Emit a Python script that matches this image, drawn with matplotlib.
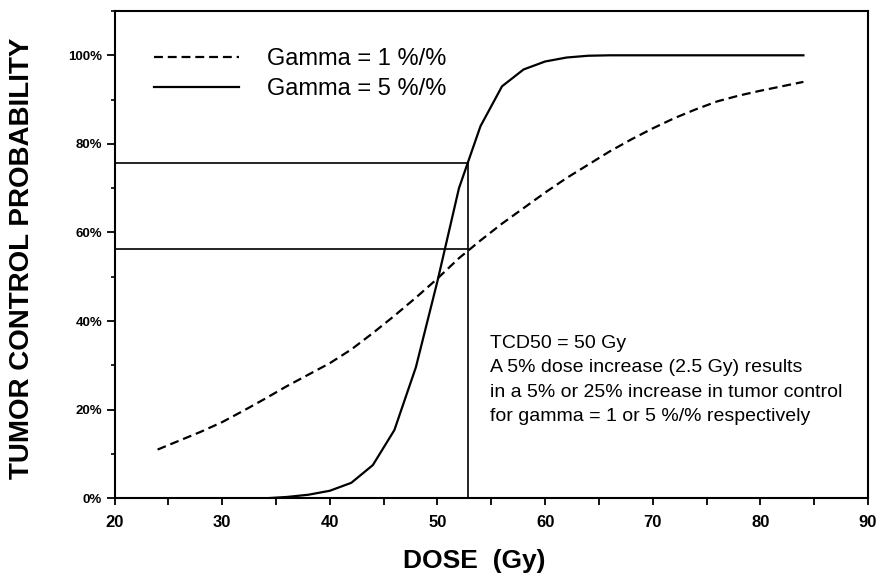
import numpy as np
import matplotlib
matplotlib.use("Agg")
import matplotlib.pyplot as plt
from matplotlib.ticker import MultipleLocator, FuncFormatter

plt.rcParams['font.family'] = ['Liberation Sans', 'DejaVu Sans']

# dose (Gy) and tumor control probability (%)
dose_g1 = [24, 26, 28, 30, 32, 34, 36, 38, 40, 42, 44, 46, 48, 50, 52, 54,
           56, 58, 60, 62, 64, 66, 68, 70, 72, 74, 76, 78, 80, 82, 84]
tcp_g1 = [11.0, 13.0, 15.0, 17.2, 19.8, 22.5, 25.3, 27.9, 30.5, 33.6, 37.3,
          41.2, 45.3, 49.6, 54.2, 58.2, 62.0, 65.5, 69.0, 72.3, 75.3, 78.3,
          81.0, 83.5, 85.8, 87.8, 89.6, 90.9, 92.0, 93.0, 94.0]

dose_g5 = [20, 34, 36, 38, 40, 42, 44, 46, 48, 50, 52, 54, 56, 58, 60, 62,
           64, 66, 70, 84]
tcp_g5 = [0.0, 0.0, 0.3, 0.8, 1.7, 3.5, 7.5, 15.4, 29.6, 49.0, 70.0, 84.0,
          93.0, 96.8, 98.6, 99.5, 99.9, 100.0, 100.0, 100.0]

# increased dose marker and resulting TCP levels
dose_mark = 52.8
tcp_levels = [75.6, 56.2]

labels = ["Gamma = 1 %/%", "Gamma = 5 %/%"]
note = ("TCD50 = 50 Gy\n"
        "A 5% dose increase (2.5 Gy) results\n"
        "in a 5% or 25% increase in tumor control\n"
        "for gamma = 1 or 5 %/% respectively")

fig = plt.figure(figsize=(8.77, 5.76), dpi=100)
ax = fig.add_axes([0.1306, 0.1349, 0.8591, 0.8460])

ax.plot(dose_g1, tcp_g1, color='black', lw=1.6, linestyle=(0, (4.0, 2.2)),
        label=labels[0])
ax.plot(dose_g5, tcp_g5, color='black', lw=1.6, label=labels[1])

for t in tcp_levels:
    ax.plot([20, dose_mark], [t, t], color='black', lw=1.2)
ax.plot([dose_mark, dose_mark], [0, tcp_levels[0]], color='black', lw=1.2)

ax.set_xlim(20, 90)
ax.set_ylim(0, 110)

ax.xaxis.set_major_locator(MultipleLocator(10))
ax.xaxis.set_minor_locator(MultipleLocator(5))
ax.yaxis.set_major_locator(MultipleLocator(20))
ax.yaxis.set_minor_locator(MultipleLocator(10))
ax.yaxis.set_major_formatter(FuncFormatter(lambda v, p: "%d%%" % v if v <= 100 else ""))

ax.tick_params(axis='x', which='major', direction='out', length=5, width=1.3,
               pad=7, labelsize=12)
ax.tick_params(axis='x', which='minor', direction='out', length=5, width=1.3)
ax.tick_params(axis='y', which='major', direction='out', length=6, width=1.3,
               pad=3, labelsize=9.5)
ax.tick_params(axis='y', which='minor', direction='out', length=3, width=1.2)
for lab in ax.get_xticklabels() + ax.get_yticklabels():
    lab.set_fontweight('bold')

for s in ax.spines.values():
    s.set_linewidth(1.5)

ax.set_xlabel("DOSE  (Gy)", fontsize=19, fontweight='bold')
ax.set_ylabel("TUMOR CONTROL PROBABILITY", fontsize=20, fontweight='bold')
ax.xaxis.set_label_coords(0.478, -0.104)
ax.yaxis.set_label_coords(-0.106, 0.493)

ax.text(54.9, 36.8, note, fontsize=14, va='top', ha='left', linespacing=1.55)

ax.legend(loc='upper left', bbox_to_anchor=(0.024, 0.968), frameon=False,
          fontsize=17, handlelength=3.6, handletextpad=1.2, labelspacing=0.35)

fig.savefig("out.png", dpi=100)
